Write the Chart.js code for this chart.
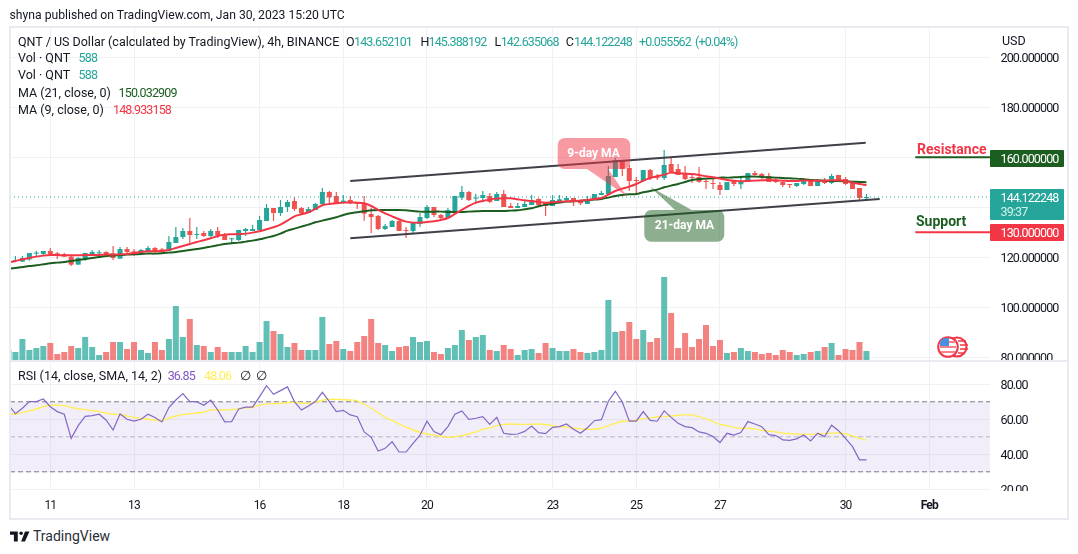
<!DOCTYPE html>
<html>
<head>
<meta charset="utf-8">
<title>QNT / US Dollar</title>
<script src="https://cdn.jsdelivr.net/npm/chart.js@4/dist/chart.umd.min.js"></script>
<style>
  html, body { margin: 0; padding: 0; background: #fff; }
  body { width: 1078px; height: 554px; position: relative; overflow: hidden; font: 12.5px Roboto, sans-serif; color: #131722; }
  canvas { position: absolute; left: 0; }
  #main { top: 0; }
  #rsi { top: 360px; }
  .t { position: absolute; white-space: nowrap; line-height: 14px; }
  .up { color: #26a69a; }
  .num { letter-spacing: -0.85px; }
  .frame { position: absolute; background: #e9ebf2; }
  .tag { position: absolute; left: 990px; width: 74px; color: #fff; border-radius: 1px; }
  .tag span { position: absolute; left: 10.5px; line-height: 14px; white-space: nowrap; letter-spacing: -0.85px; }
  .ann { font-weight: 700; font-size: 14px; }
  .bubble { color: #fff; font-weight: 700; font-size: 12px; transform: translate(-50%, -50%); }
</style>
</head>
<body>
<canvas id="main" width="1078" height="361"></canvas>
<canvas id="rsi" width="1078" height="158"></canvas>

<div class="frame" style="left:9px;top:26px;width:2px;height:494px"></div>
<div class="frame" style="left:1067px;top:26px;width:2px;height:494px"></div>
<div class="frame" style="left:9px;top:26px;width:1060px;height:2px"></div>
<div class="frame" style="left:9px;top:518px;width:1060px;height:2px"></div>
<div class="frame" style="left:9px;top:360px;width:1060px;height:1.5px"></div>
<div style="position:absolute;left:990px;top:491px;width:70px;height:7px;background:#fff"></div>

<div class="t" style="left:9.5px;top:8px;font-size:12.2px">shyna published on TradingView.com, Jan 30, 2023 15:20 UTC</div>
<div class="t" style="left:18px;top:35px">QNT / US Dollar (calculated by TradingView), 4h, BINANCE</div>
<div class="t" style="left:346px;top:35px">O</div><div class="t up num" style="left:354px;top:35px">143.652101</div>
<div class="t" style="left:420.5px;top:35px">H</div><div class="t up num" style="left:428.5px;top:35px">145.388192</div>
<div class="t" style="left:494.5px;top:35px">L</div><div class="t up num" style="left:500.7px;top:35px">142.635068</div>
<div class="t" style="left:565.7px;top:35px">C</div><div class="t up num" style="left:574px;top:35px">144.122248</div>
<div class="t up num" style="left:639px;top:35px">+0.055562</div>
<div class="t up num" style="left:695px;top:35px">(+0.04%)</div>
<div class="t" style="left:18px;top:51px">Vol · QNT</div><div class="t up num" style="left:78.6px;top:51px">588</div>
<div class="t" style="left:18px;top:68px">Vol · QNT</div><div class="t up num" style="left:78.6px;top:68px">588</div>
<div class="t" style="left:18px;top:86px">MA (21, close, 0)</div><div class="t num" style="left:118.6px;top:86px;color:#1b5e20">150.032909</div>
<div class="t" style="left:18px;top:103px">MA (9, close, 0)</div><div class="t num" style="left:113px;top:103px;color:#f23645">148.933158</div>
<div class="t" style="left:1002px;top:34px">USD</div>

<div class="t bubble" style="left:593.5px;top:153px">9-day MA</div>
<div class="t bubble" style="left:684.5px;top:225px">21-day MA</div>
<div class="t ann" style="left:917px;top:142px;color:#f23645">Resistance</div>
<div class="t ann" style="left:916px;top:214px;color:#1b5e20">Support</div>

<div class="tag" style="top:150px;height:17px;background:#1b5e20"><span style="top:1.5px">160.000000</span></div>
<div class="tag" style="top:189px;height:31px;background:#26a69a"><span style="top:2px">144.122248</span><span style="top:16px;color:#d6efec">39:37</span></div>
<div class="tag" style="top:224px;height:17px;background:#f23645"><span style="top:1.5px">130.000000</span></div>

<div class="t" style="left:18px;top:369px">RSI (14, close, SMA, 14, 2)</div>
<div class="t num" style="left:167.7px;top:369px;color:#7e57c2">36.85</div>
<div class="t num" style="left:204px;top:369px;color:#ffee58">48.06</div>
<div class="t" style="left:240px;top:369px">∅</div>
<div class="t" style="left:256px;top:369px">∅</div>

<svg style="position:absolute;left:936px;top:334px" width="34" height="26" viewBox="0 0 34 26">
  <circle cx="21" cy="13" r="9.5" fill="#fff" stroke="#f23645" stroke-width="2"/>
  <path d="M22 7h8M24 11h8M24 15h8M22 19h7" stroke="#f23645" stroke-width="1.6"/>
  <circle cx="12" cy="13" r="9.8" fill="#fff" stroke="#f23645" stroke-width="2"/>
  <path d="M4 8h16M4 13h16M5 18h14" stroke="#f7808a" stroke-width="2"/>
  <path d="M5 6a9 9 0 0 1 8-2v8H4a9 9 0 0 1 1-6z" fill="#4a90e2"/>
</svg>
<svg style="position:absolute;left:10px;top:530px" width="20" height="13" viewBox="0 0 36 22">
  <path d="M14 2H0v6h7v12h7zM27 20h-7l7-18h8z" fill="#131722"/><circle cx="20" cy="5" r="3.2" fill="#131722"/>
</svg>
<div class="t" style="left:33px;top:529px;font-size:14px;color:#2a2e39">TradingView</div>

<script>
// 4h bars, the first one sits just left of the pane edge
const opens = [118.6,118.53,118.27,119.2,121.47,121.33,122.53,121.6,121.2,120.27,117.07,119.2,121.33,121.6,122.13,121.6,119.47,123.33,122.4,122,122.4,123.73,123.2,122.53,125.73,128.13,130.53,128.93,129.73,128.53,130.53,129.33,127.2,126.93,130.53,130.53,130.93,134.53,139.73,137.73,140.13,142.53,139.73,137.73,138.93,141.33,146.13,144.53,141.73,142.93,141.73,141.33,137.33,136.53,131.33,132.13,134.53,130.93,130.53,133.33,135.73,140.13,136.93,135.73,138.27,143.87,146.13,143.47,143.73,144.53,142.53,145.33,140.53,139.73,140.13,140.93,143.33,142.13,140.53,142.53,142.93,143.73,142.93,141.33,142.93,144.93,145.2,152.13,158.93,155.73,150.93,150.53,154.93,152.13,151.73,157.33,155.33,153.33,152.13,152.13,150.53,149.73,148.93,146.93,150.53,149.2,150.13,153.73,153.33,152.53,150.93,150.13,149.33,148.53,149.33,150.53,148.53,150.93,149.73,152.93,151.33,150.13,147.73,143.65];
const highs = [119.6,120.53,120.53,121.73,122.67,122.53,123.73,122.13,121.73,120.53,120,121.73,122.93,122.93,122.4,124.53,124.13,124.13,123.33,123.33,124.53,124.13,123.73,128.53,132.13,131.73,135.73,132.13,130.53,131.33,132.13,129.73,127.87,130.93,131.73,132.93,136.53,141.33,139.73,142.93,142.93,144,140.13,140.13,141.73,147.73,146.53,146.13,144.93,144.53,142.13,144.53,139.73,136.93,133.33,134.93,134.93,132.13,133.73,137.73,140.93,140.13,137.33,139.73,144.53,148.53,146.53,145.47,146.53,145.73,146.13,146.93,141.73,141.73,142.93,144.93,143.73,142.13,144.93,144.93,144.53,143.73,142.93,144.53,145.33,146.53,156.53,159.73,158.93,156.93,152.13,154.93,155.33,153.33,162.93,159.73,157.33,156.53,153.73,156.13,151.33,151.33,150.13,150.13,150.93,152.13,153.73,154.53,153.73,153.73,151.73,150.93,149.33,149.73,151.73,150.93,151.33,151.73,153.33,152.93,152.13,150.53,147.73,145.39];
const lows = [118.3,118.27,118.13,118.67,120.53,120.53,120.53,119.33,120.13,116.53,117.07,118.67,120.8,120.53,120,118.93,119.47,121.73,120.53,121.33,121.87,121.33,121.87,122.4,125.73,127.33,125.73,127.33,128.13,128.13,127.73,126.93,125.33,126.53,128.53,130.53,130.13,134.53,134.53,136.53,138.13,138.53,137.33,137.73,138.93,140.93,141.6,141.33,141.47,141.33,139.33,134.67,129.73,130.93,130.93,132.13,130.53,127.73,129.33,132.13,135.33,136.13,135.33,135.73,138.13,142.93,142.53,141.33,142.13,141.87,142.53,140.13,139.73,139.73,140.13,140.93,140.53,136.53,140.53,142.13,142.4,140.53,140.93,141.33,142.93,144.8,144.93,152.13,152.53,146.53,145.33,150.13,150.93,150.93,150.93,153.6,152.93,150.93,149.73,149.87,147.33,147.33,144.93,146.93,148.53,147.33,150.13,152.53,151.33,150.13,149.73,148.13,147.73,148.13,148.93,148.53,148.53,149.33,149.33,150.53,148.93,147.33,142.53,142.64];
const closes = [119.2,118.53,119.73,121.73,121.87,122.53,121.2,120.8,120.27,117.07,119.73,121.73,122.13,122,120.93,119.73,123.33,122.13,121.6,122.93,123.73,122.4,122.27,126.13,128.13,130.53,128.93,129.33,128.53,130.53,128.67,126.93,127.47,130.93,131.33,131.33,134.93,139.73,137.73,140.13,142.13,139.33,137.6,139.33,141.33,146.13,144,141.47,142.67,141.73,141.33,137.47,136.13,131.33,132.53,134.53,130.53,130.53,133.73,136.13,140.13,136.93,135.73,138.93,144.53,146.13,142.93,143.87,144.93,142.13,145.33,140.13,139.73,140.53,141.33,142.93,140.93,140.53,142.93,143.2,143.73,142.13,141.6,143.33,145.33,145.73,152.53,158.93,155.33,150.53,150.53,154.93,151.73,151.73,156.93,154.13,152.93,151.33,151.73,150.13,150.13,149.33,146.93,150.13,149.33,150.53,153.73,152.93,152.13,150.13,150.13,148.93,148.93,149.73,150.53,148.53,150.53,149.73,152.53,150.53,149.33,147.33,143.73,144.12];
const volumes = [653,523,1372,653,784,915,1111,392,523,915,784,1503,849,327,523,1176,1176,719,1176,653,457,1176,653,1372,3528,1503,2679,980,915,523,849,523,523,523,915,523,1176,2548,1895,1699,849,1111,653,653,653,2810,1045,1241,719,588,1176,1568,2679,1111,980,588,849,915,1503,1176,1241,523,392,784,980,1960,1307,1503,1634,653,588,980,719,327,653,719,457,1111,784,588,588,719,523,457,523,653,3920,1830,1895,2483,1372,1960,1176,1437,5423,3071,784,1764,849,1372,2287,915,1307,457,523,784,588,523,392,457,327,653,523,327,392,523,588,849,1111,327,719,653,1176,588];
const ma9 = [118,118.53,119.2,119.73,120.27,120.67,120.93,120.93,120.8,120.8,120.8,120.93,120.93,120.93,121.07,121.07,121.2,121.33,121.73,122.13,122.4,122.4,122.53,122.93,123.73,124.53,125.33,126.13,126.8,127.6,128.53,129.07,129.2,129.33,129.47,129.87,130.4,131.2,132,133.07,134.67,136.4,137.2,138,139.33,140.8,141.33,141.6,141.87,141.87,141.87,141.6,140.53,138.93,137.6,136.4,135.2,134.27,133.87,133.87,134.13,134.4,134.93,135.73,137.33,138.93,140.53,141.87,142.53,143.07,143.47,143.6,143.6,143.2,142.8,142.53,142.13,141.87,142,142.27,142.4,142.53,142.67,142.93,143.33,143.73,145.07,146.53,147.47,148.27,149.33,150.67,151.73,152.4,153.07,153.87,153.6,153.47,153.33,152.93,152.4,152,151.47,150.93,150.67,150.4,150.53,150.67,150.8,150.93,150.8,150.67,150.53,150.53,150.67,150.67,150.67,150.67,150.8,150.8,150.53,149.87,149.33,148.93];
const ma21 = [115.4,115.73,116.13,116.53,116.8,117.2,117.6,117.87,118.13,118.53,118.93,119.33,119.73,120.13,120.53,120.67,120.93,121.07,121.2,121.33,121.47,121.47,121.6,121.87,122.13,122.53,122.93,123.33,123.73,124.27,124.8,125.33,125.6,125.87,126.27,126.67,127.2,127.87,128.53,129.47,130.67,131.47,132.27,133.07,134,134.67,135.33,136,136.93,137.6,138,138.4,138.8,138.93,138.93,138.93,138.93,138.8,138.53,138.27,138.27,138.27,138.27,138.13,138.13,138.13,138.27,138.4,138.53,138.53,138.53,138.53,138.67,138.8,139.2,139.6,140.4,141.07,141.47,141.87,142.27,142.4,142.67,142.8,143.07,143.33,143.87,144.53,144.93,145.2,145.33,146,146.53,147.07,148,148.67,149.33,150.13,150.93,151.33,151.47,151.6,151.87,151.87,152,152.13,152.27,152.27,152.13,152,151.87,151.73,151.6,151.47,151.2,150.93,150.8,150.67,150.53,150.53,150.4,150.27,150.13,150.03];
const rsiValues = [68.2,63.2,66.3,70.1,70.1,71.6,67.2,64.4,62.9,49.1,56.4,61.7,62.1,62.9,59.6,53.9,63,60,59,60,62.9,61,58.5,66.7,71,74.7,70.1,70.1,68,71,65.3,58.5,58.7,65.9,66.9,67,73,79.2,74.3,76.4,78.5,70.1,65.3,67.6,70.1,75.4,70.1,64.4,65.1,62.5,61.5,52.8,49.7,41.9,43.4,47.2,41.3,41.3,46.3,51,58.9,53,51.2,55.8,62.9,64.8,60,60.6,61.5,57.1,61.1,52,51.4,51.6,53.1,56.2,52.4,51.8,55.4,55.8,57.3,54.3,52,55.2,59.2,59.8,70.3,76,69.9,58.9,58.9,64.4,59.4,58.9,64.8,61.1,57.7,55.8,55.2,52.8,52,50.1,46.7,52,51,52.4,58.7,57.3,55.8,51.2,50.7,48.2,48,48.8,51,47.6,52,50.1,56.6,53.5,49.1,44.4,36.8,36.85];
const rsiMa = [62.9,63,63.8,64.8,65.9,67.2,68,68,67.8,66.7,66.1,65.5,65,64.4,63.6,62.9,62.7,61.9,61.1,60.6,60,59.6,59.2,60.6,61.9,62.7,63.2,63.6,64.2,65.3,65.3,65.3,65.5,66.1,66.5,66.9,68,68.8,69,69.1,69.5,69.7,69.3,69.1,69.9,70.9,71.4,71.4,71.2,71,70.5,68.6,66.3,63.8,61.1,59.4,57.3,55.6,53.9,52.6,51.6,50.9,50.3,49.7,50.1,50.7,51.6,52.8,54.3,55,56.4,57.1,57.3,57.1,57.1,57.1,57.3,57,56.4,55.8,55.6,54.9,54.5,54.3,54.3,54.9,56.4,57.7,58.9,59,59.4,60.4,60.8,61.3,61.5,61.9,62.3,62.5,62.5,61.5,60.2,58.7,57,56.4,55.4,54.9,54.9,54.5,53.7,53.3,52.8,52.2,51.8,51.6,51.4,51.4,51.6,51.8,52,52.2,51.6,50.5,49.1,48.06];

const firstBar = -1;
const dayBars = [5, 17, 35, 47, 59, 77, 89, 101, 119, 131];
const dayLabels = ['11', '13', '16', '18', '20', '23', '25', '27', '30', 'Feb'];
const priceTicks = [80, 100, 120, 140, 160, 180, 200];
const rsiTicks = [20, 40, 60, 80];
const rsiBands = [70, 50, 30];
const lastPrice = 144.122248;
const resistance = 160;
const support = 130;
const upperChannel = [[48, 150.52], [121.9, 165.84]];
const lowerChannel = [[48, 127.6], [123.9, 143.32]];

const UP = '#26a69a', DOWN = '#ef5350', GRID = '#f0f1f5';
const xMin = -0.777, xMax = 139.71;

const bars = opens.map((_, i) => i + firstBar);
const isUp = opens.map((o, i) => closes[i] >= o);
const series = vals => vals.map((v, i) => ({ x: bars[i], y: v }));
const segment = (x0, x1, v) => [{ x: x0, y: v }, { x: x1, y: v }];
const pts = pairs => pairs.map(p => ({ x: p[0], y: p[1] }));

const line = (data, color, width, extra) => Object.assign({
  type: 'line', data, borderColor: color, borderWidth: width, pointRadius: 0, fill: false,
}, extra);

// grid lines sit on the day boundaries, labels only show on the lower pane
const xAxis = showLabels => ({
  type: 'linear', min: xMin, max: xMax, offset: false,
  afterBuildTicks: s => { s.ticks = dayBars.map(v => ({ value: v })); },
  afterFit: s => { s.height = showLabels ? 28 : 0; s.paddingLeft = s.paddingRight = 0; },
  border: { display: false },
  grid: { color: GRID, drawTicks: false, offset: false },
  ticks: {
    display: showLabels, autoSkip: false, maxRotation: 0, padding: 9, color: '#131722',
    font: c => ({ family: 'Roboto', size: 12, weight: c.tick && c.tick.value === 131 ? '700' : '400' }),
    callback: v => dayLabels[dayBars.indexOf(v)],
  },
});

// labels are allowed to run over the pane edges, they are cut by the canvas
const yAxis = (min, max, tickValues, fmt) => ({
  position: 'right', min, max,
  afterBuildTicks: s => { s.ticks = tickValues.map(v => ({ value: v })); },
  afterFit: s => { s.width = 88; s.paddingTop = s.paddingBottom = 0; },
  border: { display: false },
  grid: { color: GRID, drawTicks: false },
  ticks: { padding: 10.5, labelOffset: 1.5, color: '#131722', font: { family: 'Roboto', size: 12.5 }, callback: fmt },
});

// digits on the price scale are set tighter than the font's default
const tightDigits = {
  id: 'tightDigits',
  beforeDraw(chart) { chart.ctx.letterSpacing = '-0.85px'; },
};

// the two rounded notes with their pointers
const notes = [
  { box: [557.7, 138, 72.6, 31], tail: [[608, 169], [626.7, 196], [587, 169]], fill: 'rgba(242,54,69,0.5)' },
  { box: [644.3, 210, 80, 31.7], tail: [[675, 210], [650, 186.7], [691.7, 210]], fill: 'rgba(27,94,32,0.5)' },
];
const notesPlugin = {
  id: 'notes',
  afterDatasetsDraw(chart) {
    const ctx = chart.ctx;
    ctx.save();
    notes.forEach(n => {
      ctx.beginPath();
      ctx.roundRect(n.box[0], n.box[1], n.box[2], n.box[3], 7);
      n.tail.forEach((p, i) => (i ? ctx.lineTo(p[0], p[1]) : ctx.moveTo(p[0], p[1])));
      ctx.closePath();
      ctx.fillStyle = n.fill;
      ctx.fill();
    });
    ctx.restore();
  },
};

new Chart(document.getElementById('main'), {
  type: 'bar',
  plugins: [notesPlugin, tightDigits],
  data: {
    datasets: [
      { data: bars.map((x, i) => ({ x, y: volumes[i] })), yAxisID: 'yVol', grouped: false, barThickness: 6, inflateAmount: 0, order: 9,
        backgroundColor: isUp.map(u => (u ? 'rgba(38,166,154,0.72)' : 'rgba(239,83,80,0.72)')) },
      { data: bars.map((x, i) => ({ x, y: [lows[i], highs[i]] })), grouped: false, barThickness: 1.2, inflateAmount: 0, order: 8,
        backgroundColor: isUp.map(u => (u ? UP : DOWN)) },
      { data: bars.map((x, i) => ({ x, y: [opens[i], closes[i]] })), grouped: false, barThickness: 5, inflateAmount: 0, minBarLength: 1, order: 7,
        backgroundColor: isUp.map(u => (u ? UP : DOWN)) },
      line(segment(xMin, xMax, lastPrice), UP, 1, { borderDash: [1, 3], order: 6 }),
      line(series(ma21), '#1b5e20', 2, { tension: 0.3, order: 5 }),
      line(series(ma9), '#f23645', 2, { tension: 0.3, order: 4 }),
      line(pts(upperChannel), '#3f4148', 2, { order: 3 }),
      line(pts(lowerChannel), '#3f4148', 2, { order: 3 }),
      line(segment(129, xMax, resistance), '#1b5e20', 2, { order: 2 }),
      line(segment(129, xMax, support), '#f23645', 2, { order: 2 }),
    ],
  },
  options: {
    responsive: false, animation: false, events: [],
    layout: { padding: { left: 10, top: 27, bottom: 1, right: 0 } },
    plugins: { legend: { display: false }, tooltip: { enabled: false } },
    scales: {
      x: xAxis(false),
      y: yAxis(78.92, 212.12, priceTicks, v => v.toFixed(6)),
      yVol: { display: false, position: 'left', min: 0, max: 21745 },
    },
  },
});

new Chart(document.getElementById('rsi'), {
  type: 'line',
  plugins: [tightDigits],
  data: {
    datasets: [
      line(segment(xMin, xMax, rsiBands[0]), '#787b86', 1, { borderDash: [5, 3], fill: { target: { value: rsiBands[2] }, above: 'rgba(126,87,194,0.1)' }, order: 5 }),
      line(segment(xMin, xMax, rsiBands[1]), 'rgba(120,123,134,0.5)', 1, { borderDash: [5, 3], order: 5 }),
      line(segment(xMin, xMax, rsiBands[2]), '#787b86', 1, { borderDash: [5, 3], order: 5 }),
      line(series(rsiMa), '#ffee58', 1.4, { tension: 0.3, order: 2 }),
      line(series(rsiValues), '#8567c6', 1.2, { order: 1 }),
    ],
  },
  options: {
    responsive: false, animation: false, events: [],
    layout: { padding: { left: 10, top: 1, bottom: 0, right: 0 } },
    plugins: { legend: { display: false }, tooltip: { enabled: false } },
    scales: {
      x: xAxis(true),
      y: yAxis(19.6, 93.31, rsiTicks, v => v.toFixed(2)),
    },
  },
});
</script>
</body>
</html>
